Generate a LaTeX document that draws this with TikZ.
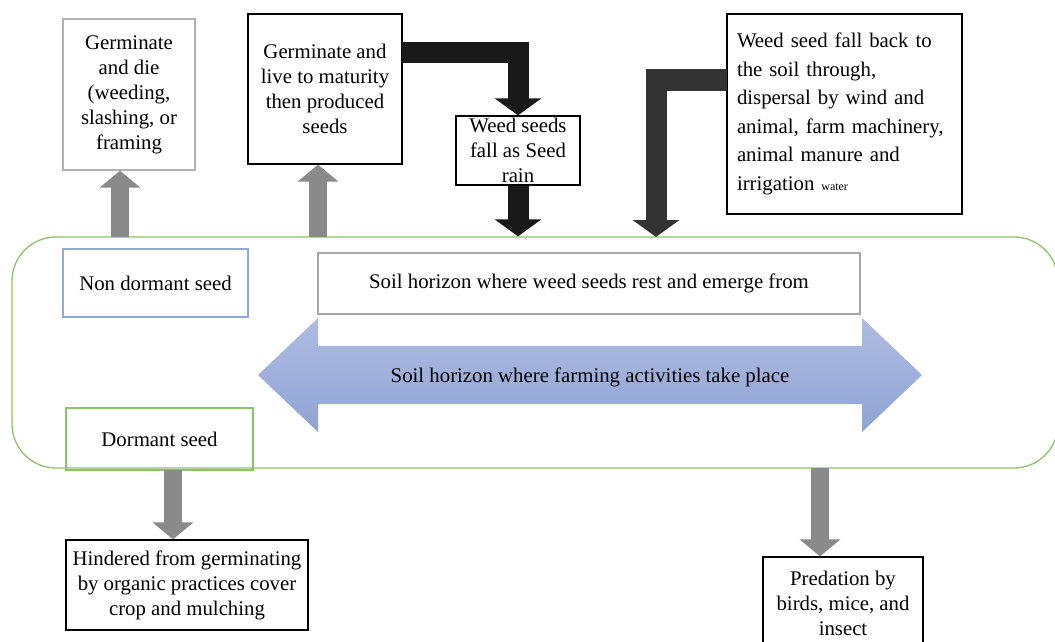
\documentclass[tikz,border=0pt]{standalone}
\usepackage{fontspec}
\setmainfont{Liberation Serif}
\usetikzlibrary{arrows.meta}
\definecolor{soilgreen}{HTML}{8DC26A}
\definecolor{seedblue}{HTML}{8EAADC}
\definecolor{farmtop}{HTML}{AEBCE2}
\definecolor{farmbot}{HTML}{8FA3D5}
\definecolor{arrgray}{HTML}{8A8A8A}
\tikzset{
  txt/.style={font=\fontsize{20.8}{25}\selectfont, align=center, inner sep=0pt},
  box/.style={txt, draw=black, line width=1.3pt},
  lbox/.style={txt, draw=black!30, line width=1.3pt},
  grayarr/.style={draw=arrgray, line width=18pt, -{Triangle[length=17pt, width=40pt]}},
  blackarr/.style={draw=black!90, line width=21pt, -{Triangle[length=17pt, width=46pt]}},
}

\begin{document}
\begin{tikzpicture}[x=1pt,y=-1pt]

  \useasboundingbox (0,0) rectangle (1055,642);

  % Nodes
  \node[lbox, minimum width=132, minimum height=151] (die) at (129,94.5)
    {Germinate\\ and die\\ (weeding,\\ slashing, or\\ framing};
  \node[box, minimum width=154, minimum height=150] (live) at (325,89)
    {Germinate and\\ live to maturity\\ then produced\\ seeds};
  \node[box, minimum width=124, minimum height=69] (rain) at (518,150.5)
    {Weed seeds\\ fall as Seed\\ rain};
  \node[box, align=left, text width=215, inner xsep=10pt,
    minimum height=200, font=\fontsize{20.8}{28.5}\selectfont] (fall) at (844.5,114)
    {Weed seed fall back to\\ the soil through,\\ dispersal by wind and\\
     animal, farm machinery,\\ animal manure and\\ irrigation {\fontsize{12}{14}\selectfont water}};

  \node[draw=soilgreen, line width=1.3pt, rounded corners=44pt,
    minimum width=1046, minimum height=231] (soil) at (535,352.5) {};

  \node[box, draw=seedblue, minimum width=185, minimum height=68] (nondormant) at (155.5,283)
    {Non dormant seed};
  \node[lbox, draw=black!35, minimum width=542, minimum height=61] (rest) at (589,283.5)
    {Soil horizon where weed seeds rest and emerge from};

  \shade[top color=farmtop, bottom color=farmbot]
    (258,375) -- (318,318) -- (318,346) -- (862,346) -- (862,318) -- (922,375)
    -- (862,432) -- (862,404) -- (318,404) -- (318,432) -- cycle;
  \node[txt] (farm) at (590,377) {Soil horizon where farming activities take place};

  \node[box, draw=soilgreen, minimum width=187, minimum height=62] (dormant) at (159.5,439)
    {Dormant seed};
  \node[box, minimum width=242, minimum height=90] (hinder) at (187,585)
    {Hindered from germinating\\ by organic practices cover\\ crop and mulching};
  \node[box, minimum width=160, minimum height=92] (pred) at (843,603)
    {Predation by\\ birds, mice, and\\ insect};

  % Arrows
  \coordinate (up1) at (120,237);
  \coordinate (up2) at (318,237);
  \coordinate (l1) at (402,53);
  \coordinate (l2) at (727,80);
  \coordinate (drop) at (656,237);
  \coordinate (dn1) at (173,470);
  \coordinate (dn2) at (820,468);

  \draw[grayarr] (up1) -- (up1 |- die.south);
  \draw[grayarr] (up2) -- (up2 |- live.south);
  \draw[blackarr] (l1) -| (rain.north);
  \draw[blackarr] (rain.south) -- (rain.south |- soil.north);
  \draw[blackarr, draw=black!80] (l2) -| (drop);
  \draw[grayarr] (dn1) -- (dn1 |- hinder.north);
  \draw[grayarr] (dn2) -- (dn2 |- pred.north);

\end{tikzpicture}
\end{document}
